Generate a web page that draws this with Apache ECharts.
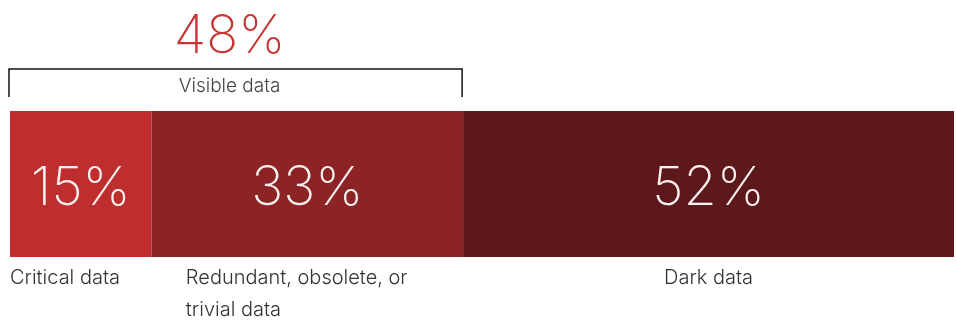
<!DOCTYPE html>
<html>
<head>
<meta charset="utf-8">
<script src="https://cdn.jsdelivr.net/npm/echarts@6/dist/echarts.min.js"></script>
<style>
    html, body { margin: 0; padding: 0; background: #fff; }
    #chart { width: 956px; height: 320px; }
</style>
</head>
<body>
<div id="chart"></div>
<script>
// Data
const segmentNames = ['Critical data', 'Redundant, obsolete, or\ntrivial data', 'Dark data'];
const segmentShares = [15, 33, 52];
const segmentColors = ['#bf2e2f', '#8c2325', '#5c181a'];
const visibleLabel = 'Visible data';

// Where each name sits under its segment (fraction of the segment width)
const namePositions = [['0%', '100%'], ['11%', '100%'], ['50%', '100%']];
const nameAligns = ['left', 'left', 'center'];

const THIN_FONT = 'Inter, Roboto, "Helvetica Neue", sans-serif';

const visibleShare = segmentShares[0] + segmentShares[1];

// ============================================
// Series
// ============================================
const shareSeries = segmentShares.map((v, i) => ({
    type: 'bar',
    stack: 'share',
    barWidth: '100%',
    barGap: '-100%',
    itemStyle: { color: segmentColors[i] },
    label: {
        show: true,
        position: 'inside',
        offset: [0, 5],
        formatter: '{c}%',
        color: '#fbf1f1',
        fontFamily: THIN_FONT,
        fontWeight: 200,
        fontSize: 54
    },
    silent: true,
    data: [v]
}));

const nameSeries = segmentShares.map((v, i) => ({
    type: 'bar',
    stack: 'names',
    barWidth: '100%',
    barGap: '-100%',
    itemStyle: { color: 'transparent' },
    label: {
        show: true,
        position: namePositions[i],
        align: nameAligns[i],
        verticalAlign: 'top',
        offset: [0, 5],
        formatter: () => segmentNames[i],
        color: '#333',
        fontFamily: THIN_FONT,
        fontWeight: 300,
        fontSize: 20,
        lineHeight: 32
    },
    silent: true,
    data: [v]
}));

// Bracket over the visible part of the bar
const bracketSeries = {
    type: 'custom',
    clip: false,
    silent: true,
    encode: { x: [0, 1], y: 2 },
    data: [[0, visibleShare, 0]],
    renderItem: (params, api) => {
        const start = api.coord([api.value(0), 0]);
        const end = api.coord([api.value(1), 0]);
        const bandH = api.size([0, 1])[1];
        const barTop = start[1] - bandH / 2;
        const x0 = start[0] - 1;
        const x1 = end[0] - 1;
        const yTop = barTop - 42;
        const yBot = barTop - 14;
        const mid = (x0 + x1) / 2 - 6;
        return {
            type: 'group',
            children: [
                {
                    type: 'polyline',
                    shape: { points: [[x0, yBot], [x0, yTop], [x1, yTop], [x1, yBot]] },
                    style: { stroke: '#111', lineWidth: 1.5, fill: null }
                },
                {
                    type: 'text',
                    style: {
                        x: mid, y: yTop + 17,
                        text: visibleLabel,
                        align: 'center', verticalAlign: 'middle',
                        fill: '#444',
                        font: `300 19px ${THIN_FONT}`
                    }
                },
                {
                    type: 'text',
                    style: {
                        x: mid, y: yTop - 32,
                        text: visibleShare + '%',
                        align: 'center', verticalAlign: 'middle',
                        fill: '#c73434',
                        font: `200 53px ${THIN_FONT}`
                    }
                }
            ]
        };
    }
};

// ============================================
// Chart
// ============================================
function init() {
    const chart = echarts.init(document.getElementById('chart'));
    chart.setOption({
        animation: false,
        grid: { left: 10, right: 2, top: 111, bottom: 63 },
        xAxis: { type: 'value', min: 0, max: 100, show: false },
        yAxis: { type: 'category', data: ['share'], show: false },
        series: [...shareSeries, ...nameSeries, bracketSeries]
    });
}

init();
</script>
</body>
</html>
